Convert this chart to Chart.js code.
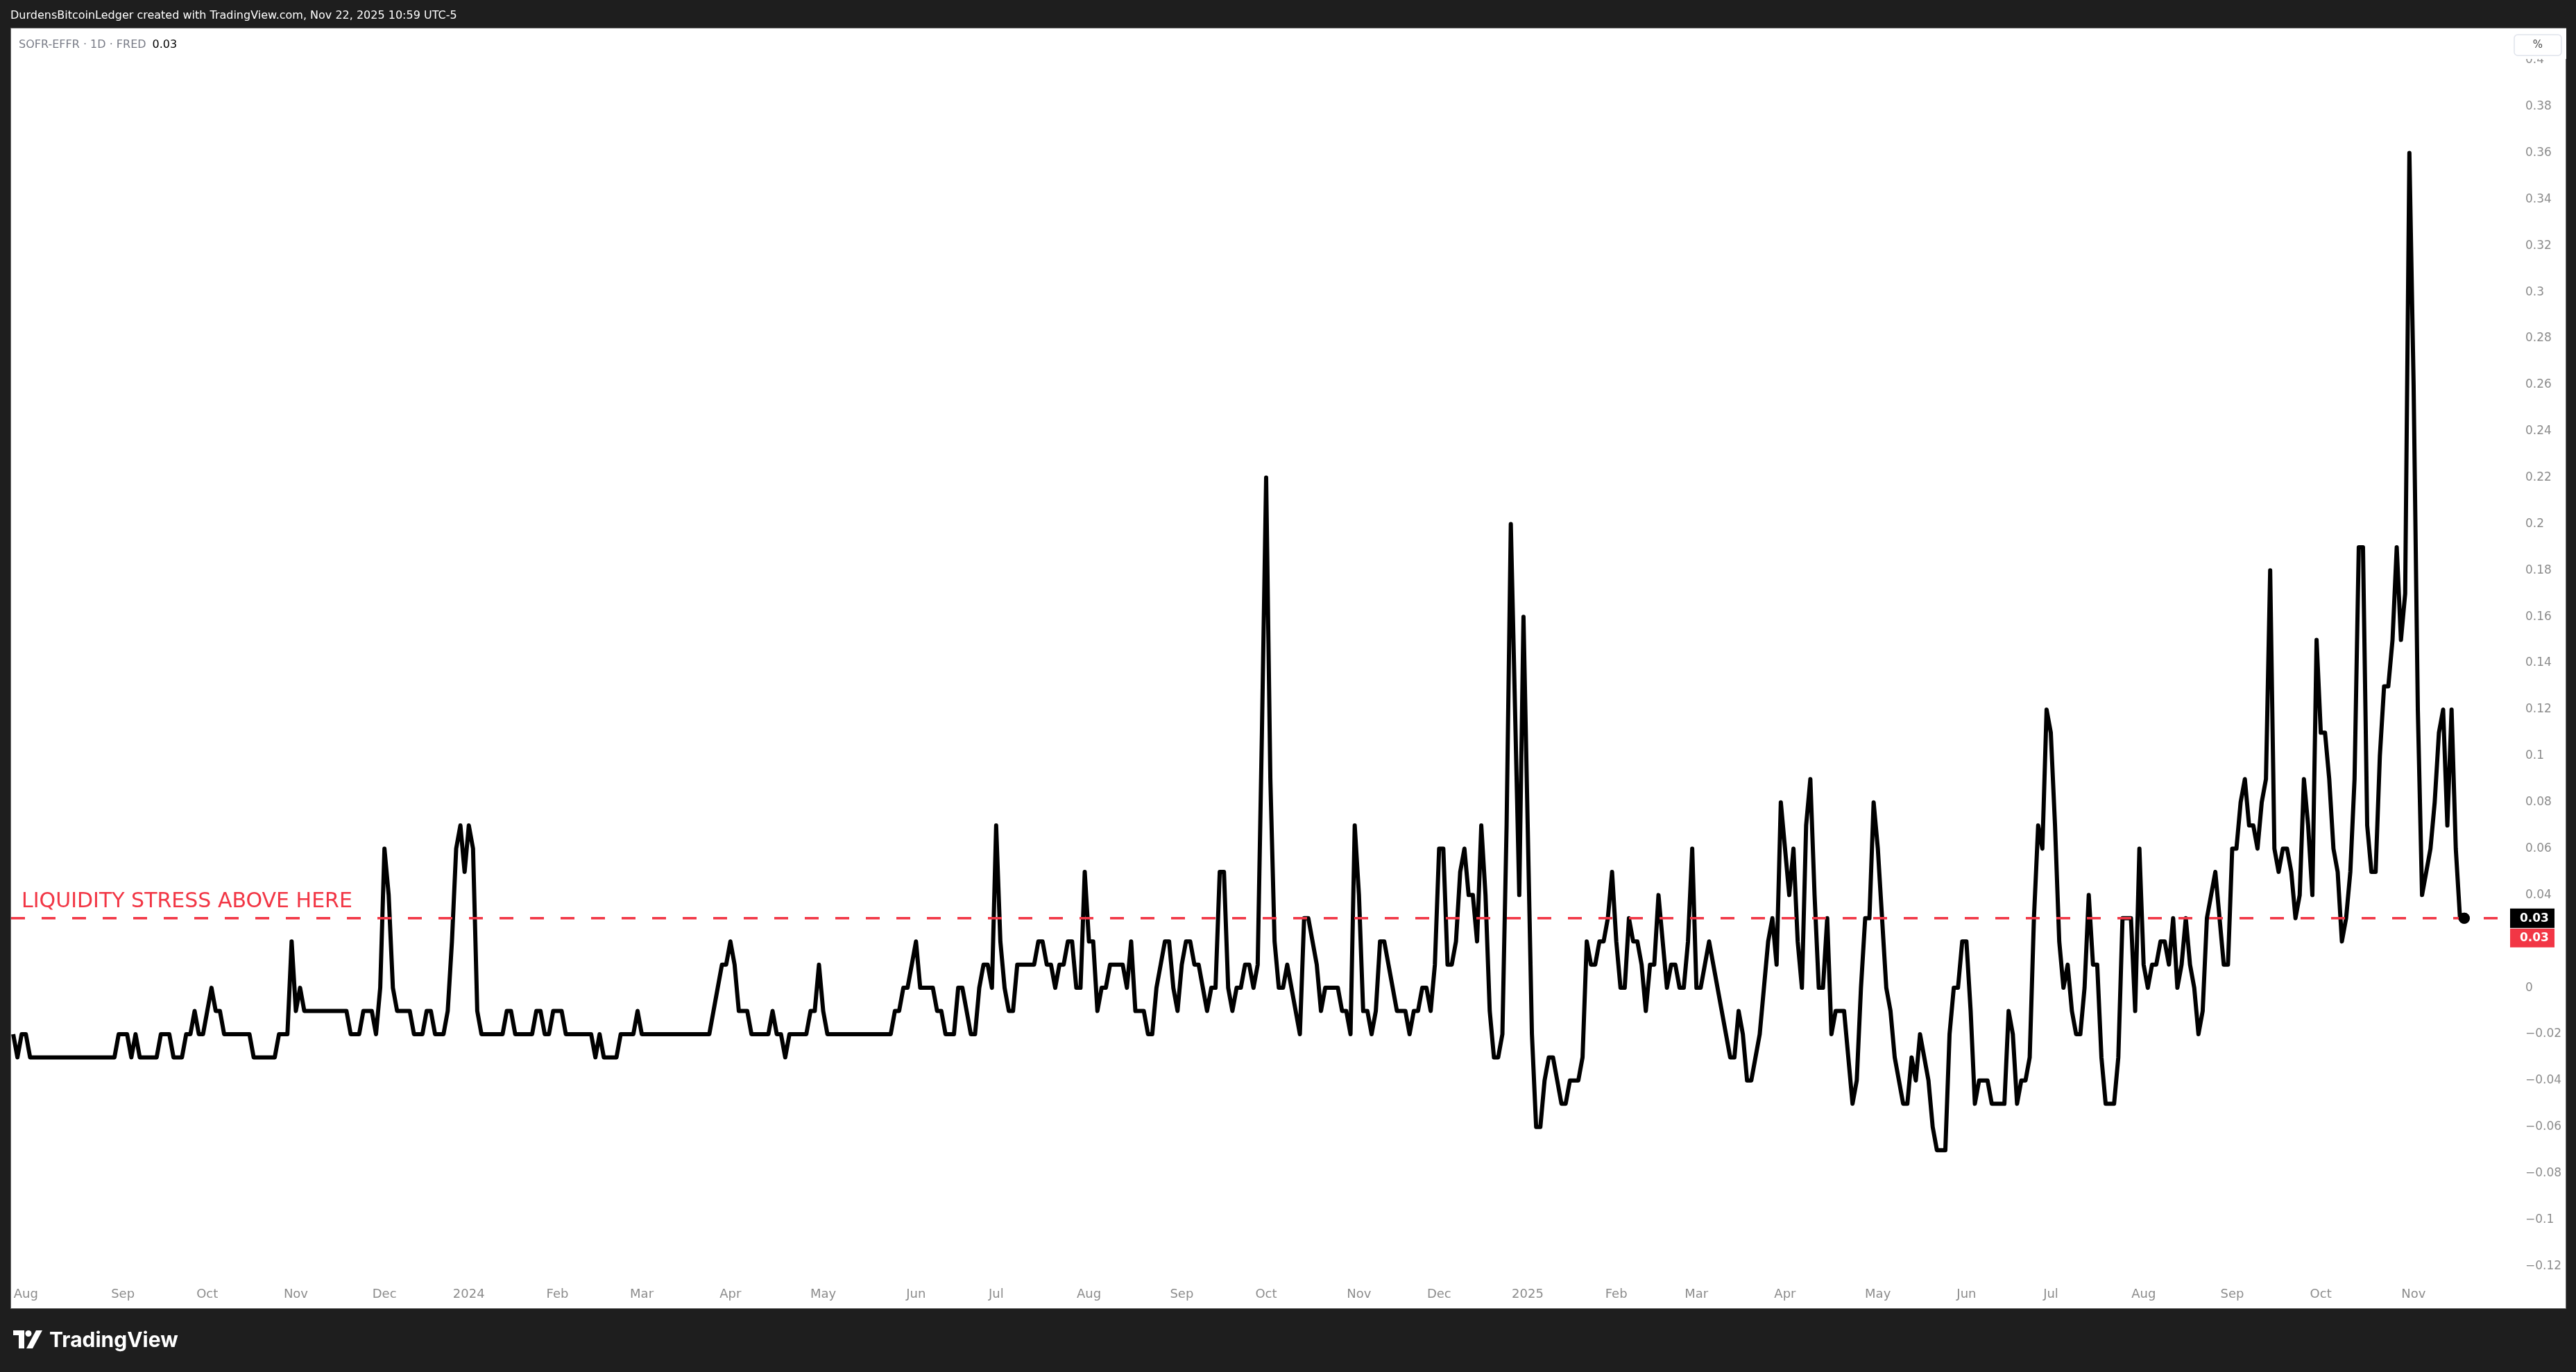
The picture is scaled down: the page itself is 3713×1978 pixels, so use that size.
<!DOCTYPE html>
<html>
<head>
<meta charset="utf-8">
<title>SOFR-EFFR · 1D · FRED</title>
<script src="https://cdn.jsdelivr.net/npm/chart.js@4.4.1/dist/chart.umd.min.js"></script>
<style>
  html, body { margin: 0; padding: 0; background: #1e1e1e; }
  #wrap { position: relative; width: 3713px; height: 1978px; overflow: hidden; }
  #chart { position: absolute; left: 0; top: 0; }
  #header { position: absolute; left: 15px; top: 2px; height: 40px;
            color: #fff; font: 16px/40px "DejaVu Sans", sans-serif; white-space: nowrap; }
  #legend { position: absolute; left: 27px; top: 54px; font: 16px/20px "DejaVu Sans", sans-serif;
            color: #787b86; white-space: nowrap; }
  #legend span { color: #000; margin-left: 9px; }
  #footer { position: absolute; left: 19px; top: 1911px; height: 40px; display: flex; align-items: center;
            color: #fff; font: 700 30px/40px Inter, sans-serif; }
  #footer svg { margin-right: 8px; }
</style>
</head>
<body>
<div id="wrap">
  <canvas id="chart" width="3713" height="1978"></canvas>
  <div id="header">DurdensBitcoinLedger created with TradingView.com, Nov 22, 2025 10:59 UTC-5</div>
  <div id="legend">SOFR-EFFR · 1D · FRED<span>0.03</span></div>
  <div id="footer">
    <svg width="44" height="26" viewBox="0 0 44 26">
      <path d="M0 0H16V26H8V7H0Z" fill="#fff"/>
      <circle cx="22" cy="4.5" r="4.5" fill="#fff"/>
      <path d="M19 26H28L42 0H33Z" fill="#fff"/>
    </svg>
    <span>TradingView</span>
  </div>
</div>
<script>
// Días hábiles (fechas FRED) del 27 jul 2023 al 20 nov 2025
const startDate = "2023-07-27";
const endDate = "2025-11-20";
const holidays = [
  "2023-09-04", "2023-10-09", "2023-11-23", "2023-12-25",
  "2024-01-01", "2024-01-15", "2024-02-19", "2024-05-27", "2024-06-19", "2024-07-04",
  "2024-09-02", "2024-10-14", "2024-11-11", "2024-11-28", "2024-12-25",
  "2025-01-01", "2025-01-20", "2025-02-17", "2025-05-26", "2025-06-19", "2025-07-04",
  "2025-09-01", "2025-10-13", "2025-11-11",
];

// SOFR - EFFR (%), un valor por día hábil
const spread = [
  -0.02, -0.03, -0.02, -0.02, -0.03, -0.03, -0.03, -0.03, -0.03, -0.03,
  -0.03, -0.03, -0.03, -0.03, -0.03, -0.03, -0.03, -0.03, -0.03, -0.03,
  -0.03, -0.03, -0.03, -0.03, -0.03, -0.02, -0.02, -0.02, -0.03, -0.02,
  -0.03, -0.03, -0.03, -0.03, -0.03, -0.02, -0.02, -0.02, -0.03, -0.03,
  -0.03, -0.02, -0.02, -0.01, -0.02, -0.02, -0.01, 0, -0.01, -0.01,
  -0.02, -0.02, -0.02, -0.02, -0.02, -0.02, -0.02, -0.03, -0.03, -0.03,
  -0.03, -0.03, -0.03, -0.02, -0.02, -0.02, 0.02, -0.01, 0, -0.01,
  -0.01, -0.01, -0.01, -0.01, -0.01, -0.01, -0.01, -0.01, -0.01, -0.01,
  -0.02, -0.02, -0.02, -0.01, -0.01, -0.01, -0.02, 0, 0.06, 0.04,
  0, -0.01, -0.01, -0.01, -0.01, -0.02, -0.02, -0.02, -0.01, -0.01,
  -0.02, -0.02, -0.02, -0.01, 0.02, 0.06, 0.07, 0.05, 0.07, 0.06,
  -0.01, -0.02, -0.02, -0.02, -0.02, -0.02, -0.02, -0.01, -0.01, -0.02,
  -0.02, -0.02, -0.02, -0.02, -0.01, -0.01, -0.02, -0.02, -0.01, -0.01,
  -0.01, -0.02, -0.02, -0.02, -0.02, -0.02, -0.02, -0.02, -0.03, -0.02,
  -0.03, -0.03, -0.03, -0.03, -0.02, -0.02, -0.02, -0.02, -0.01, -0.02,
  -0.02, -0.02, -0.02, -0.02, -0.02, -0.02, -0.02, -0.02, -0.02, -0.02,
  -0.02, -0.02, -0.02, -0.02, -0.02, -0.02, -0.01, 0, 0.01, 0.01,
  0.02, 0.01, -0.01, -0.01, -0.01, -0.02, -0.02, -0.02, -0.02, -0.02,
  -0.01, -0.02, -0.02, -0.03, -0.02, -0.02, -0.02, -0.02, -0.02, -0.01,
  -0.01, 0.01, -0.01, -0.02, -0.02, -0.02, -0.02, -0.02, -0.02, -0.02,
  -0.02, -0.02, -0.02, -0.02, -0.02, -0.02, -0.02, -0.02, -0.02, -0.01,
  -0.01, 0, 0, 0.01, 0.02, 0, 0, 0, 0, -0.01,
  -0.01, -0.02, -0.02, -0.02, 0, 0, -0.01, -0.02, -0.02, 0,
  0.01, 0.01, 0, 0.07, 0.02, 0, -0.01, -0.01, 0.01, 0.01,
  0.01, 0.01, 0.01, 0.02, 0.02, 0.01, 0.01, 0, 0.01, 0.01,
  0.02, 0.02, 0, 0, 0.05, 0.02, 0.02, -0.01, 0, 0,
  0.01, 0.01, 0.01, 0.01, 0, 0.02, -0.01, -0.01, -0.01, -0.02,
  -0.02, 0, 0.01, 0.02, 0.02, 0, -0.01, 0.01, 0.02, 0.02,
  0.01, 0.01, 0, -0.01, 0, 0, 0.05, 0.05, 0, -0.01,
  0, 0, 0.01, 0.01, 0, 0.01, 0.11, 0.22, 0.09, 0.02,
  0, 0, 0.01, 0, -0.01, -0.02, 0.03, 0.03, 0.02, 0.01,
  -0.01, 0, 0, 0, 0, -0.01, -0.01, -0.02, 0.07, 0.04,
  -0.01, -0.01, -0.02, -0.01, 0.02, 0.02, 0.01, 0, -0.01, -0.01,
  -0.01, -0.02, -0.01, -0.01, 0, 0, -0.01, 0.01, 0.06, 0.06,
  0.01, 0.01, 0.02, 0.05, 0.06, 0.04, 0.04, 0.02, 0.07, 0.04,
  -0.01, -0.03, -0.03, -0.02, 0.07, 0.2, 0.12, 0.04, 0.16, 0.07,
  -0.02, -0.06, -0.06, -0.04, -0.03, -0.03, -0.04, -0.05, -0.05, -0.04,
  -0.04, -0.04, -0.03, 0.02, 0.01, 0.01, 0.02, 0.02, 0.03, 0.05,
  0.02, 0, 0, 0.03, 0.02, 0.02, 0.01, -0.01, 0.01, 0.01,
  0.04, 0.02, 0, 0.01, 0.01, 0, 0, 0.02, 0.06, 0,
  0, 0.01, 0.02, 0.01, 0, -0.01, -0.02, -0.03, -0.03, -0.01,
  -0.02, -0.04, -0.04, -0.03, -0.02, 0, 0.02, 0.03, 0.01, 0.08,
  0.06, 0.04, 0.06, 0.02, 0, 0.07, 0.09, 0.04, 0, 0,
  0.03, -0.02, -0.01, -0.01, -0.01, -0.03, -0.05, -0.04, 0, 0.03,
  0.03, 0.08, 0.06, 0.03, 0, -0.01, -0.03, -0.04, -0.05, -0.05,
  -0.03, -0.04, -0.02, -0.03, -0.04, -0.06, -0.07, -0.07, -0.07, -0.02,
  0, 0, 0.02, 0.02, -0.01, -0.05, -0.04, -0.04, -0.04, -0.05,
  -0.05, -0.05, -0.05, -0.01, -0.02, -0.05, -0.04, -0.04, -0.03, 0.03,
  0.07, 0.06, 0.12, 0.11, 0.07, 0.02, 0, 0.01, -0.01, -0.02,
  -0.02, 0, 0.04, 0.01, 0.01, -0.03, -0.05, -0.05, -0.05, -0.03,
  0.03, 0.03, 0.03, -0.01, 0.06, 0.01, 0, 0.01, 0.01, 0.02,
  0.02, 0.01, 0.03, 0, 0.01, 0.03, 0.01, 0, -0.02, -0.01,
  0.03, 0.04, 0.05, 0.03, 0.01, 0.01, 0.06, 0.06, 0.08, 0.09,
  0.07, 0.07, 0.06, 0.08, 0.09, 0.18, 0.06, 0.05, 0.06, 0.06,
  0.05, 0.03, 0.04, 0.09, 0.07, 0.04, 0.15, 0.11, 0.11, 0.09,
  0.06, 0.05, 0.02, 0.03, 0.05, 0.09, 0.19, 0.19, 0.07, 0.05,
  0.05, 0.1, 0.13, 0.13, 0.15, 0.19, 0.15, 0.17, 0.36, 0.26,
  0.12, 0.04, 0.05, 0.06, 0.08, 0.11, 0.12, 0.07, 0.12, 0.06, 0.03, 0.03,
];

// Eje de precios y línea de estrés
const priceTicks = [-0.12, -0.1, -0.08, -0.06, -0.04, -0.02, 0, 0.02, 0.04, 0.06, 0.08, 0.1,
  0.12, 0.14, 0.16, 0.18, 0.2, 0.22, 0.24, 0.26, 0.28, 0.3, 0.32, 0.34, 0.36, 0.38, 0.4];
const monthNames = ["Jan", "Feb", "Mar", "Apr", "May", "Jun", "Jul", "Aug", "Sep", "Oct", "Nov", "Dec"];
const stressLevel = 0.03;
const stressLabel = "LIQUIDITY STRESS ABOVE HERE";
const lastValue = "0.03";

const RED = "#f23645";
const AXIS_TEXT = "#8c8c8c";
const FONT = '"DejaVu Sans", sans-serif';

function businessDays(from, to, skip) {
  const out = [];
  const d = new Date(from + "T00:00:00Z");
  const end = new Date(to + "T00:00:00Z");
  while (d <= end) {
    const iso = d.toISOString().slice(0, 10);
    const wd = d.getUTCDay();
    if (wd !== 0 && wd !== 6 && !skip.includes(iso)) out.push(iso);
    d.setUTCDate(d.getUTCDate() + 1);
  }
  return out;
}

const days = businessDays(startDate, endDate, holidays);

// Primer día hábil de cada mes -> etiqueta del eje de tiempo
const monthTicks = [];
days.forEach((d, i) => {
  if (i > 0 && d.slice(5, 7) !== days[i - 1].slice(5, 7)) {
    const m = +d.slice(5, 7);
    monthTicks.push({ value: i, label: m === 1 ? d.slice(0, 4) : monthNames[m - 1], year: m === 1 });
  }
});

const points = spread.map((v, i) => ({ x: i, y: v }));

function fmtPrice(v) {
  const r = Math.round(v * 100) / 100;
  const s = String(Math.abs(r));
  return r < 0 ? "\u2212" + s : s;
}

// Fondo: panel blanco sobre marco oscuro
const panelPlugin = {
  id: "panel",
  beforeDraw(chart) {
    const ctx = chart.ctx;
    ctx.save();
    ctx.fillStyle = "#1e1e1e";
    ctx.fillRect(0, 0, chart.width, chart.height);
    ctx.fillStyle = "#ffffff";
    ctx.fillRect(15, 40, 3684, 1847);
    ctx.strokeStyle = "#6b6b6b";
    ctx.lineWidth = 1;
    ctx.strokeRect(15.5, 40.5, 3683, 1846);
    ctx.restore();
  },
};

// Línea horizontal discontinua + texto
const stressPlugin = {
  id: "stress",
  afterDatasetsDraw(chart) {
    const { ctx, chartArea } = chart;
    const y = chart.scales.y.getPixelForValue(stressLevel);
    ctx.save();
    ctx.strokeStyle = RED;
    ctx.lineWidth = 3.5;
    ctx.setLineDash([20, 24]);
    ctx.beginPath();
    ctx.moveTo(chartArea.left, y);
    ctx.lineTo(chartArea.right - 20, y);
    ctx.stroke();
    ctx.setLineDash([]);
    ctx.fillStyle = RED;
    ctx.font = "30px " + FONT;
    ctx.textBaseline = "alphabetic";
    ctx.fillText(stressLabel, 31, y - 16);
    ctx.restore();
    // el punto del último valor queda por encima de la línea roja
    const meta = chart.getDatasetMeta(0);
    meta.data[meta.data.length - 1].draw(ctx, chartArea);
  },
};

// Etiquetas sobre la escala de precios
const scaleLabelsPlugin = {
  id: "scaleLabels",
  afterDraw(chart) {
    const ctx = chart.ctx;
    const yScale = chart.scales.y;
    const y = yScale.getPixelForValue(stressLevel);
    const x0 = yScale.left - 2;
    ctx.save();
    // caja "%"
    ctx.fillStyle = "#fff";
    ctx.fillRect(yScale.left, 41, yScale.width, 44);
    ctx.beginPath();
    ctx.roundRect(3624, 50, 68, 30, 5);
    ctx.fillStyle = "#fff";
    ctx.fill();
    ctx.strokeStyle = "#e0e3eb";
    ctx.lineWidth = 1.5;
    ctx.stroke();
    ctx.fillStyle = "#4a4a4a";
    ctx.font = "15px " + FONT;
    ctx.textAlign = "center";
    ctx.textBaseline = "middle";
    ctx.fillText("%", 3658, 65);
    // último valor y valor de la línea
    ctx.textAlign = "left";
    ctx.font = "bold 17px " + FONT;
    ctx.fillStyle = "#000";
    ctx.fillRect(x0, y - 14, 64, 28);
    ctx.fillStyle = "#fff";
    ctx.fillText(lastValue, yScale.left + 12, y + 1);
    ctx.fillStyle = RED;
    ctx.fillRect(x0, y + 15, 64, 27);
    ctx.fillStyle = "#fff";
    ctx.fillText(stressLevel.toFixed(2), yScale.left + 12, y + 29);
    ctx.restore();
  },
};

const ctx = document.getElementById("chart").getContext("2d");
new Chart(ctx, {
  type: "line",
  data: {
    datasets: [
      {
        label: "SOFR-EFFR",
        data: points,
        borderColor: "#000",
        borderWidth: 6,
        borderJoinStyle: "round",
        tension: 0,
        pointRadius: (c) => (c.dataIndex === points.length - 1 ? 8 : 0),
        pointBackgroundColor: "#000",
        pointBorderColor: "#000",
        pointBorderWidth: 0,
      },
    ],
  },
  options: {
    responsive: false,
    devicePixelRatio: 1,
    animation: false,
    events: [],
    layout: { padding: { left: 16, right: 14, top: 40, bottom: 91 } },
    plugins: { legend: { display: false }, tooltip: { enabled: false } },
    scales: {
      x: {
        type: "linear",
        min: -0.5,
        max: 592.2,
        grid: { display: false },
        border: { display: false },
        afterBuildTicks: (s) => {
          s.ticks = monthTicks.map((t) => ({ value: t.value }));
        },
        afterFit: (s) => {
          s.height = 47;
        },
        ticks: {
          autoSkip: false,
          maxRotation: 0,
          padding: 8,
          color: AXIS_TEXT,
          font: { family: FONT, size: 18 },
          callback: (v) => {
            const t = monthTicks.find((m) => m.value === v);
            return t ? t.label : "";
          },
        },
      },
      y: {
        position: "right",
        min: -0.1244,
        max: 0.414,
        grid: { display: false },
        border: { display: false },
        afterBuildTicks: (s) => {
          s.ticks = priceTicks.map((v) => ({ value: v }));
        },
        afterFit: (s) => {
          s.width = 79;
        },
        ticks: {
          padding: 12,
          color: AXIS_TEXT,
          font: { family: FONT, size: 17 },
          callback: (v) => fmtPrice(v),
        },
      },
    },
  },
  plugins: [panelPlugin, stressPlugin, scaleLabelsPlugin],
});
</script>
</body>
</html>
